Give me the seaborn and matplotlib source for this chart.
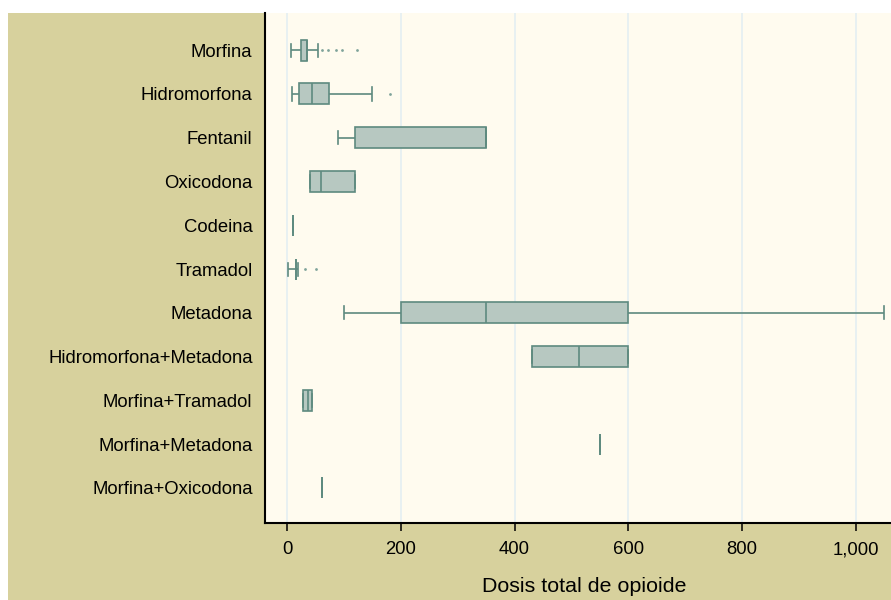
import matplotlib
matplotlib.use('Agg')
import matplotlib.pyplot as plt
import matplotlib.ticker as mticker
from matplotlib.patches import Rectangle
import pandas as pd
import seaborn as sns

# datos (resumen de cinco numeros por farmaco)
farmacos = ['Morfina', 'Hidromorfona', 'Fentanil', 'Oxicodona', 'Codeina', 'Tramadol',
            'Metadona', 'Hidromorfona+Metadona', 'Morfina+Tramadol', 'Morfina+Metadona',
            'Morfina+Oxicodona']
bigote_inf = [6, 9, 90, 40, 10, 2, 100, 430, 28, 550, 61]
q1 = [24, 20, 120, 40, 10, 16, 200, 430, 28, 550, 61]
mediana = [35, 44, 350, 60, 10, 16, 350, 514, 36, 550, 61]
q3 = [35, 74, 350, 120, 10, 16, 600, 600, 44, 550, 61]
bigote_sup = [55, 149, 350, 120, 10, 19, 1050, 600, 44, 550, 61]

# valores atipicos
atip_farmaco = ['Morfina', 'Morfina', 'Morfina', 'Morfina', 'Morfina', 'Hidromorfona', 'Tramadol', 'Tramadol']
atip_valor = [62, 72, 85, 97, 122, 180, 31, 51]

# tabla larga: 5 valores por farmaco reproducen exactamente cuartiles y bigotes
filas = []
for i, f in enumerate(farmacos):
    for v in (bigote_inf[i], q1[i], mediana[i], q3[i], bigote_sup[i]):
        filas.append({'farmaco': f, 'dosis': v})
df = pd.DataFrame(filas)
df_atip = pd.DataFrame({'farmaco': atip_farmaco, 'dosis': atip_valor})

plt.rcParams['font.family'] = ['Liberation Sans', 'DejaVu Sans']
plt.rcParams['font.size'] = 13.3

fig = plt.figure(figsize=(8.91, 6), dpi=100, facecolor='white')
fig.patches.append(Rectangle((8 / 891, 0), 1, 587 / 600, transform=fig.transFigure,
                             facecolor='#d7d19d', edgecolor='none', zorder=-1))
ax = fig.add_axes([265 / 891, 77 / 600, 626 / 891, 510 / 600])
ax.set_facecolor('#fffbef')

relleno = '#b7c8c1'
borde = '#5e8a7f'
sns.boxplot(data=df, x='dosis', y='farmaco', order=farmacos, orient='h', whis=(0, 100),
            color=relleno, linecolor=borde, linewidth=1.2, width=0.48, saturation=1,
            fliersize=0, capwidths=0.3, ax=ax)
sns.stripplot(data=df_atip, x='dosis', y='farmaco', order=farmacos, orient='h', jitter=False,
              color='#7fa39a', size=2, ax=ax)

ax.set_xlim(-39, 1062)
ax.set_ylim(10.8, -0.85)
ax.set_xticks([0, 200, 400, 600, 800, 1000])
ax.xaxis.set_major_formatter(mticker.FuncFormatter(lambda v, p: f'{v:,.0f}'))
ax.grid(axis='x', color='#e2edf2', linewidth=1.1)
ax.set_axisbelow(True)
ax.tick_params(axis='y', length=0, pad=9)
ax.tick_params(axis='x', length=6, width=1.1, pad=7, color='black')
ax.set_xlabel('Dosis total de opioide', fontsize=15.4)
ax.xaxis.set_label_coords(0.51, -0.106)
ax.set_ylabel('')
for s in ['top', 'right']:
    ax.spines[s].set_visible(False)
for s in ['left', 'bottom']:
    ax.spines[s].set_color('black')
    ax.spines[s].set_linewidth(1.5)

plt.savefig('out.png', dpi=100, facecolor=fig.get_facecolor())
